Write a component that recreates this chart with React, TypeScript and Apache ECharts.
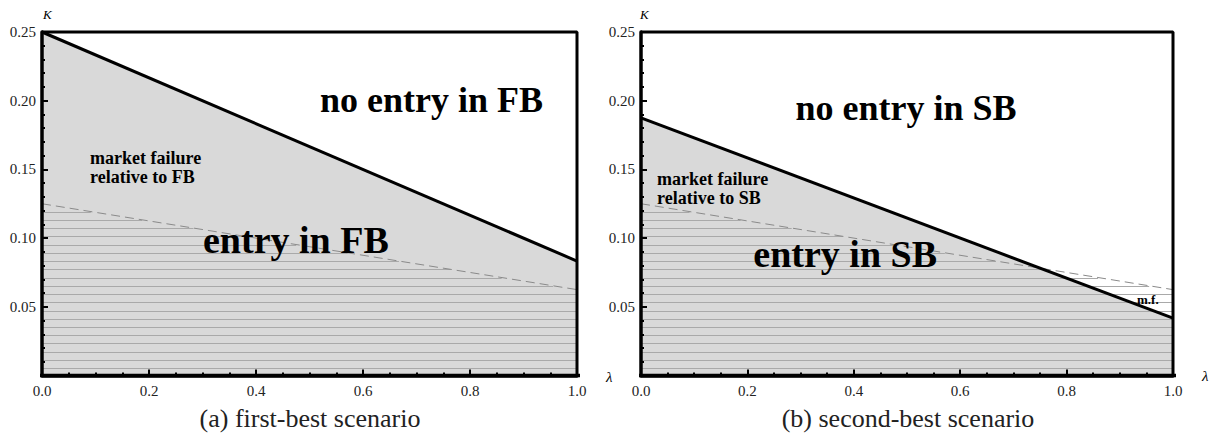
import React, { useEffect, useRef } from "react";
import * as echarts from "echarts";

// ---- data ----
const LAMBDA = [0, 1];
const FB_BOUNDARY = [0.25, 0.0833]; // solid line, first-best panel
const SB_BOUNDARY = [0.1875, 0.0417]; // solid line, second-best panel
const MARKET_LINE = [0.125, 0.0625]; // dashed line, both panels
const K_MAX = 0.25;
// hatch texture under the dashed line
const HATCH_START = 0.0053;
const HATCH_STEP = 0.006;

const SERIF = "Liberation Serif";

function pts(vals: number[]) {
  return LAMBDA.map((l, i) => [l, vals[i]]);
}

function hatchData() {
  const out: number[][] = [];
  for (let k = HATCH_START; k < MARKET_LINE[0]; k += HATCH_STEP) {
    const xEnd = Math.min(1, (MARKET_LINE[0] - k) / (MARKET_LINE[0] - MARKET_LINE[1]));
    out.push([k, xEnd]);
  }
  return out;
}

function xAxisCfg(gridIndex: number) {
  return {
    type: "value",
    gridIndex,
    min: 0,
    max: 1,
    interval: 0.2,
    z: 10,
    axisLine: { show: true, onZero: false, lineStyle: { color: "#000", width: 3.5 } },
    axisTick: { show: true, inside: true, length: 6, lineStyle: { color: "#000", width: 2 } },
    minorTick: { show: true, splitNumber: 4, length: 3, lineStyle: { color: "#000", width: 2 } },
    axisLabel: {
      margin: 8,
      formatter: (v: number) => v.toFixed(1),
      fontFamily: SERIF,
      fontSize: 15,
      color: "#222",
    },
    splitLine: { show: false },
  };
}

function yAxisCfg(gridIndex: number) {
  return {
    type: "value",
    gridIndex,
    min: 0,
    max: K_MAX,
    interval: 0.05,
    z: 10,
    axisLine: { show: true, onZero: false, lineStyle: { color: "#000", width: 3.5 } },
    axisTick: { show: true, inside: true, length: 6, lineStyle: { color: "#000", width: 2 } },
    minorTick: { show: true, splitNumber: 5, length: 3, lineStyle: { color: "#000", width: 2 } },
    axisLabel: {
      margin: 6,
      formatter: (v: number) => (v === 0 ? "" : v.toFixed(2)),
      fontFamily: SERIF,
      fontSize: 15,
      color: "#222",
    },
    splitLine: { show: false },
  };
}

function panelSeries(idx: number, boundary: number[]) {
  const ax = { xAxisIndex: idx, yAxisIndex: idx };
  return [
    {
      type: "line",
      ...ax,
      data: pts(boundary),
      symbol: "none",
      lineStyle: { width: 0 },
      areaStyle: { color: "#d9d9d9", opacity: 1 },
      z: 1,
      silent: true,
    },
    {
      type: "custom",
      ...ax,
      data: hatchData(),
      encode: { x: 1, y: 0 },
      z: 2,
      silent: true,
      renderItem: (_p: any, api: any) => {
        const k = api.value(0);
        const xe = api.value(1);
        const a = api.coord([0, k]);
        const b = api.coord([xe, k]);
        const y = Math.round(a[1]) + 0.5;
        return {
          type: "line",
          shape: { x1: a[0], y1: y, x2: b[0], y2: y },
          style: { stroke: "#a9a9a9", lineWidth: 1 },
        };
      },
    },
    {
      type: "line",
      ...ax,
      data: pts(MARKET_LINE),
      symbol: "none",
      lineStyle: { color: "#8a8a8a", width: 1, type: [9, 5] },
      z: 3,
      silent: true,
    },
    {
      type: "line",
      ...ax,
      data: [
        [0, K_MAX],
        [1, K_MAX],
        [1, 0],
      ],
      symbol: "none",
      clip: false,
      lineStyle: { color: "#000", width: 3 },
      z: 4,
      silent: true,
    },
    {
      type: "line",
      ...ax,
      data: [
        [-0.02, 0],
        [1.02, 0],
      ],
      symbol: "none",
      clip: false,
      lineStyle: { color: "#000", width: 3.5 },
      z: 5,
      silent: true,
    },
    {
      type: "line",
      ...ax,
      data: pts(boundary),
      symbol: "none",
      clip: false,
      lineStyle: { color: "#000", width: 3 },
      z: 6,
      silent: true,
    },
  ];
}

function txt(
  text: string,
  x: number,
  y: number,
  size: number,
  opts: { align?: string; weight?: string; style?: string; color?: string } = {}
) {
  return {
    type: "text",
    x,
    y,
    z: 100,
    silent: true,
    style: {
      text,
      fill: opts.color || "#000",
      fontFamily: SERIF,
      fontSize: size,
      fontWeight: opts.weight || "normal",
      fontStyle: opts.style || "normal",
      textAlign: opts.align || "left",
      textVerticalAlign: "middle",
    },
  };
}

export default function App() {
  const ref = useRef<HTMLDivElement>(null);
  useEffect(() => {
    if (!ref.current) return;
    const chart = echarts.init(ref.current, null, { renderer: "svg" });
    const option: any = {
      animation: false,
      backgroundColor: "#fff",
      grid: [
        { left: 42, top: 32, width: 535, height: 343.5 },
        { left: 641, top: 32, width: 532, height: 343.5 },
      ],
      xAxis: [xAxisCfg(0), xAxisCfg(1)],
      yAxis: [yAxisCfg(0), yAxisCfg(1)],
      series: [...panelSeries(0, FB_BOUNDARY), ...panelSeries(1, SB_BOUNDARY)],
      graphic: [
        // axis names
        txt("K", 43, 14, 13, { style: "italic" }),
        txt("λ", 606, 377, 15, { style: "italic" }),
        txt("K", 640, 14, 13, { style: "italic" }),
        txt("λ", 1202, 376, 15, { style: "italic" }),
        // left panel labels
        txt("no entry in FB", 543, 100, 36, { align: "right", weight: "bold" }),
        txt("market failure", 90, 158, 18, { weight: "bold" }),
        txt("relative to FB", 90, 177, 18, { weight: "bold" }),
        txt("entry in FB", 203, 240, 38, { weight: "bold" }),
        // right panel labels
        txt("no entry in SB", 906, 108, 36, { align: "center", weight: "bold" }),
        txt("market failure", 657, 179, 18, { weight: "bold" }),
        txt("relative to SB", 657, 198, 18, { weight: "bold" }),
        txt("entry in SB", 937, 254, 38, { align: "right", weight: "bold" }),
        txt("m.f.", 1137, 299, 13, { weight: "bold" }),
        // captions
        txt("(a) first-best scenario", 310, 418, 26, { align: "center", color: "#222" }),
        txt("(b) second-best scenario", 908, 418, 26, { align: "center", color: "#222" }),
      ],
    };
    chart.setOption(option);
    return () => chart.dispose();
  }, []);
  return (
    <div
      ref={ref}
      style={{ position: "absolute", left: 0, top: 0, width: 1214, height: 434 }}
    />
  );
}
